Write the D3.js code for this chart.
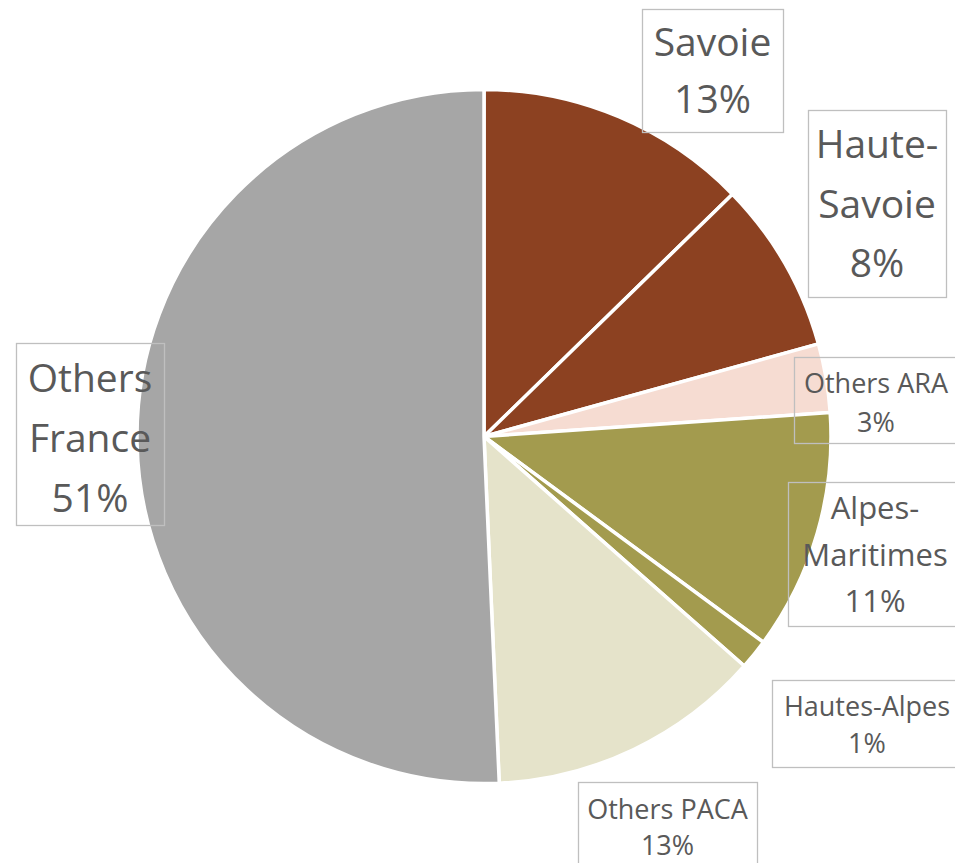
<!DOCTYPE html>
<html>
<head>
<meta charset="utf-8">
<script src="https://cdn.jsdelivr.net/npm/d3@7"></script>
<style>
    html, body { margin: 0; padding: 0; background: #fff; overflow: hidden; }
    svg { display: block; }
    text { font-family: "Open Sans", "Liberation Sans", sans-serif; fill: #595959; }
</style>
</head>
<body>
<svg id="chart" width="955" height="863"></svg>
<script>

// data (share of total, %)
const categories = [ "Savoie", "Haute-Savoie", "Others ARA", "Alpes-Maritimes", "Hautes-Alpes", "Others PACA", "Others France" ];
const shares = [ 12.7, 8.0, 3.2, 11.2, 1.4, 12.8, 50.7 ];

// styling, kept apart from the values
const sliceColours = [ "#8c4121", "#8c4121", "#f6dcd2", "#a39b4e", "#a39b4e", "#e5e3ca", "#a6a6a6" ];

// label boxes were placed by hand in the original, so they are here too
const labelLayout = [
    { lines: ["Savoie"],            box: [642, 9, 141, 123],   size: 39, base: 56,  step: 57 },
    { lines: ["Haute-", "Savoie"],  box: [808, 110, 138, 187], size: 39, base: 158, step: 59.5 },
    { lines: ["Others ARA"],        box: [794, 357, 164, 86],  size: 27, base: 393, step: 39 },
    { lines: ["Alpes-", "Maritimes"], box: [788, 482, 174, 144], size: 31, base: 519, step: 46.5 },
    { lines: ["Hautes-Alpes"],      box: [772, 680, 190, 87],  size: 27, base: 716, step: 37 },
    { lines: ["Others PACA"],       box: [578, 782, 179, 90],  size: 27, base: 819, step: 36 },
    { lines: ["Others", "France"],  box: [16, 343, 148, 182],  size: 39, base: 392, step: 60 }
];

const svg = d3.select("#chart");
const cx = 484, cy = 436.5, radius = 347;

const total = d3.sum(shares);
const items = categories.map( (name, i) => ({ name, value: shares[i], colour: sliceColours[i], label: labelLayout[i] }) );

const pie = d3.pie()
    .sort(null)
    .value( d => d.value );

const arc = d3.arc()
    .innerRadius(0)
    .outerRadius(radius);

const plotArea = svg.append("g")
    .attr("transform", `translate(${cx}, ${cy})`);

plotArea.selectAll("path")
    .data( pie(items) )
    .enter()
    .append("path")
        .attr("d", arc)
        .style("fill", d => d.data.colour)
        .style("stroke", "#fff")
        .style("stroke-width", 3.5)
        .style("stroke-linejoin", "round");

// data labels
const labels = svg.selectAll(".data-label")
    .data(items)
    .enter()
    .append("g")
        .attr("class", "data-label");

labels.append("rect")
    .attr("x", d => d.label.box[0] + 0.5)
    .attr("y", d => d.label.box[1] + 0.5)
    .attr("width", d => d.label.box[2])
    .attr("height", d => d.label.box[3])
    .style("fill", "none")
    .style("stroke", "#bfbfbf")
    .style("stroke-width", 1.3);

labels.each( function(d) {
    const g = d3.select(this);
    const lx = d.label.box[0] + d.label.box[2] / 2;
    const lines = d.label.lines.concat( [ Math.round( d.value / total * 100 ) + "%" ] );
    g.selectAll("text")
        .data(lines)
        .enter()
        .append("text")
            .attr("x", lx)
            .attr("y", (t, i) => d.label.base + i * d.label.step)
            .attr("text-anchor", "middle")
            .style("font-size", d.label.size + "px")
            .text( t => t );
});

</script>
</body>
</html>
